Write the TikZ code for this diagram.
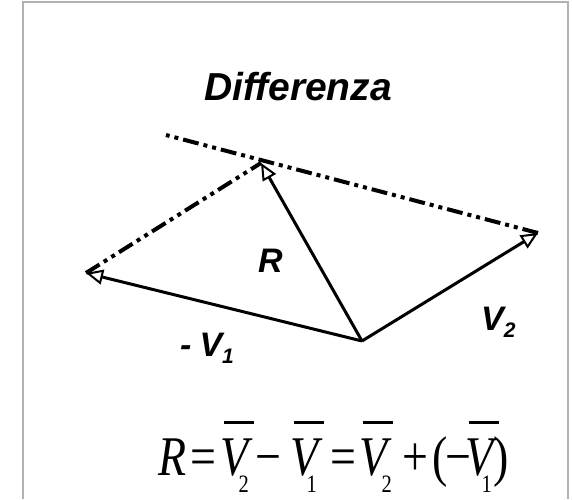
\documentclass[tikz,border=0pt]{standalone}
\usepackage{fontspec}
\setmainfont{Liberation Sans}
\newfontfamily\eqfont[FakeStretch=0.82]{Liberation Serif}
\usetikzlibrary{arrows.meta}
\newcommand\atx[2]{\makebox[0pt][l]{\hspace{#1}#2}}
\newcommand\barV{\makebox[0pt][l]{\hspace{3pt}\rule[51pt]{30pt}{3.5pt}}V}
\newcommand\subd[1]{\raisebox{-17pt}{\fontsize{25}{25}\selectfont\upshape #1}}
\newcommand\subl[1]{\raisebox{-7pt}{\fontsize{21}{21}\selectfont #1}}
\begin{document}
\begin{tikzpicture}[x=1pt,y=-1pt,
  vec/.style={line width=3pt, -{Triangle[length=17pt, width=15pt, line width=2pt, fill=white]}},
  aux/.style={line width=4pt, dash pattern=on 16pt off 5pt on 4pt off 5pt on 4pt off 5pt},
  lbl/.style={font=\fontsize{34}{36}\selectfont\bfseries\itshape, inner sep=0pt, anchor=base west},
  frame/.style={draw=black!30, line width=1.5pt}]
\useasboundingbox (0,0) rectangle (572,499);
\fill[white] (0,0) rectangle (572,499);
\draw[frame] (23,499) -- (23,2) -- (568,2) -- (568,499);
\node[font=\fontsize{39}{42}\selectfont\bfseries\itshape, inner sep=0pt, anchor=base] (title) at (298,100) {Differenza};
\coordinate (O) at (362,341);
\coordinate (V2) at (538,233);
\coordinate (mV1) at (86,273);
\coordinate (Rt) at (261,163);
\coordinate (E) at (166,135);
\draw[aux] (mV1) -- (Rt);
\draw[aux] (V2) -- (E);
\draw[vec] (O) -- (V2);
\draw[vec] (O) -- (mV1);
\draw[vec] (O) -- (Rt);
\node[lbl] (lR) at (258,272) {R};
\node[lbl] (lV2) at (481,330) {V\subl{2}};
\node[lbl] (lV1) at (180,356) {-\hspace{8pt}V\subl{1}};
\node[inner sep=0pt, anchor=base west, font=\eqfont\fontsize{56}{60}\selectfont\itshape] (eq) at (158,475)
 {\atx{0pt}{R}\atx{32pt}{\upshape =}\atx{62pt}{\barV}\atx{80pt}{\subd{2}}\atx{97pt}{\upshape −}%
  \atx{132pt}{\barV}\atx{148pt}{\subd{1}}\atx{172pt}{\upshape =}\atx{201pt}{\barV}\atx{223pt}{\subd{2}}%
  \atx{244pt}{\upshape +}\atx{274pt}{\upshape (}\atx{287pt}{\upshape −}\atx{307pt}{\barV}\atx{323pt}{\subd{1}}%
  \atx{335pt}{\upshape )}\hspace{349pt}};
\end{tikzpicture}
\end{document}
